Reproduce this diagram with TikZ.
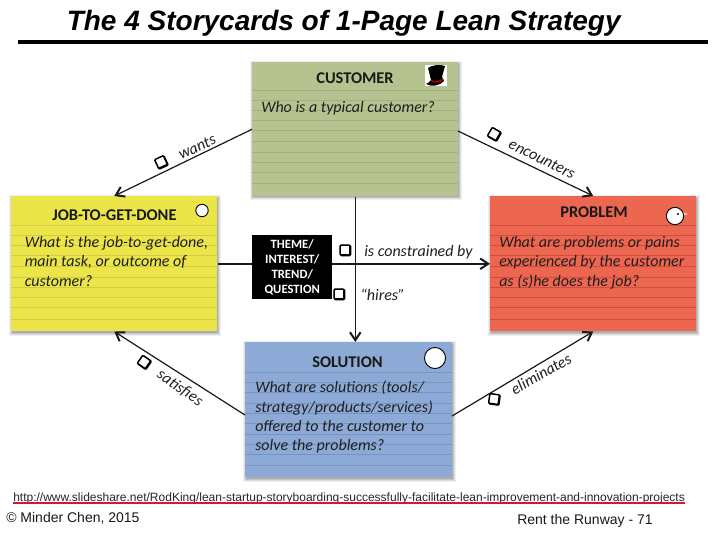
\documentclass[tikz,border=0pt]{standalone}
\usepackage{fontspec}
\setmainfont{Carlito}
\newfontfamily\arialfont{Liberation Sans}
\usetikzlibrary{calc,arrows.meta}
\definecolor{custfill}{HTML}{B6C28F}\definecolor{custline}{HTML}{A3B07E}
\definecolor{jobfill}{HTML}{EBE549}\definecolor{jobline}{HTML}{D2CC44}
\definecolor{probfill}{HTML}{EC6650}\definecolor{probline}{HTML}{D04E40}
\definecolor{solfill}{HTML}{8CAAD5}\definecolor{solline}{HTML}{7494C2}
\definecolor{linkred}{HTML}{D8123C}
\tikzset{
  x=0.75pt,y=-0.75pt,
  card/.style={inner sep=0pt,minimum width=154.5pt,minimum height=100.5pt,anchor=north west},
  cardtitle/.style={font=\bfseries\fontsize{12.3}{14}\selectfont,inner sep=0pt,text=black!90},
  cardtext/.style={font=\itshape\fontsize{12}{14.5}\selectfont,align=left,anchor=north west,inner sep=0pt,text=black!88},
  rule/.style={line width=0.5pt},
  link/.style={line width=0.9pt,black!90,-{Straight Barb[length=6pt,width=8pt,line width=1.5pt]}},
  heavylink/.style={link,line width=1.15pt},
  tick/.style={draw=black,line width=1.1pt,fill=white,inner sep=0pt,minimum size=7.2pt,rounded corners=0.6pt,
    preaction={draw=black,line width=1.3pt,transform canvas={shift={(0.45pt,-0.45pt)}}}},
  linklabel/.style={font=\itshape\fontsize{12}{14}\selectfont,inner sep=0pt,text=black!88},
  hole/.style={circle,draw=black,fill=white,line width=0.7pt,inner sep=0pt},
  foot/.style={font=\arialfont\fontsize{10.5}{12}\selectfont,inner sep=0pt,anchor=base west,text=black!90},
}
\newcommand{\cardshadow}[4]{%
  \foreach \d/\o in {4/0.06,3/0.08,2/0.1,1/0.12}{%
    \fill[black,opacity=\o] (#1-\d+2,#2+3-\d) rectangle (#3+\d,#4+\d+1);}}
\newcommand{\cardrules}[4]{%
  \foreach \yy in {#4}{\draw[rule,#3] (#1,\yy) -- (#2,\yy);}}
\begin{document}
\begin{tikzpicture}
\useasboundingbox (0,0) rectangle (720,540);
\fill[white] (0,0) rectangle (720,540);
% title
\node[font=\arialfont\bfseries\itshape\fontsize{21}{25}\selectfont,inner sep=0pt,anchor=base west] (title) at (66.5,30) {The 4 Storycards of 1-Page Lean Strategy};
\draw[line width=2.4pt] (18,42) -- (708,42);
% card shadows
\cardshadow{252}{62}{458}{195}
\cardshadow{11}{196}{217}{331}
\cardshadow{490}{196}{696}{331}
\cardshadow{245}{342}{452}{477}
% cards
\node[card,fill=custfill] (cust) at (252,62) {};
\node[card,fill=jobfill,minimum height=101.25pt] (job) at (11,196) {};
\node[card,fill=probfill,minimum height=101.25pt] (prob) at (490,196) {};
\node[card,fill=solfill,minimum width=155.25pt,minimum height=101.25pt] (sol) at (245,342) {};
\cardrules{252}{458}{custline}{90,100,110,120,130,141,152,162,172,183}
\cardrules{11}{217}{jobline}{225,235,245,255,266,277,287,297,307,319}
\cardrules{490}{696}{probline}{225,235,245,255,266,277,287,297,307,319}
\cardrules{245}{452}{solline}{372,382,392,403,413,423,434,444,454,465}
% titles
\node[cardtitle] (custt) at (355,78) {CUSTOMER};
\node[cardtitle] (jobt) at (114.5,215) {JOB-TO-GET-DONE};
\node[cardtitle] (probt) at (594,212) {PROBLEM};
\node[cardtitle] (solt) at (347.5,362) {SOLUTION};
% questions
\node[cardtext] (custq) at (261,101.5) {Who is a typical customer?};
\node[cardtext] (jobq) at (24.5,236) {What is the job-to-get-done,\\main task, or outcome of\\customer?};
\node[cardtext] (probq) at (499,236) {What are problems or pains\\experienced by the customer\\as (s)he does the job?};
\node[cardtext] (solq) at (255,381) {What are solutions (tools/\\strategy/products/services)\\offered to the customer to\\solve the problems?};
% icons
\fill[white] (425,65) rectangle (447,86);
\fill[black] (428,68) .. controls (432,65) and (440,64) .. (445,66) -- (442,77) -- (444,81) .. controls (440,86) and (431,87) .. (426,84) .. controls (428,83) and (430,82) .. (431,80) -- cycle;
\draw[red!65!black,line width=1.3pt] (431,80.5) .. controls (435,83) and (440,82) .. (443,79);
\node[hole,minimum size=9.3pt] (jobh) at (202,210.5) {};
\node[hole,minimum size=15.8pt] (solh) at (435,358) {};
\fill[orange!40] (683,212) -- (688,214) -- (683,216) -- cycle;
\node[hole,minimum size=13pt] (bird) at (675,216) {};
\fill[black] (678,214) circle (1.1);
% connectors
\coordinate (solwest) at (245,415);
\coordinate (soleast) at (452,416);
\coordinate (custeast) at (458,131);
\draw[link] (cust.west) -- (job.north);
\draw[link] (custeast) -- (prob.north);
\draw[link] (solwest) -- (job.south);
\draw[link] (soleast) -- (prob.south);
\draw[heavylink] (job.east) -- (prob.west);
\draw[heavylink] (cust.south) -- (cust.south |- sol.north);
% theme box
\node[fill=black,text=white,inner sep=0pt,minimum width=60pt,minimum height=48pt,anchor=north west,align=center,font=\bfseries\fontsize{9.5}{11.4}\selectfont] (theme) at (252,235) {THEME/\\INTEREST/\\TREND/\\QUESTION};
% link labels
\node[linklabel,rotate=25] (wants) at (197,147) {wants};
\node[tick,rotate=25] (t1) at (161,162) {};
\node[linklabel,rotate=-26] (enc) at (542,159) {encounters};
\node[tick,rotate=-30] (t2) at (494,134) {};
\node[linklabel,rotate=-35] (sat) at (180,388) {satisfies};
\node[tick,rotate=-35] (t3) at (144,362) {};
\node[linklabel,rotate=30] (eli) at (541,374) {eliminates};
\node[tick,rotate=-8] (t4) at (494,399) {};
\node[linklabel,anchor=base west] (con) at (364,256) {is constrained by};
\node[tick] (t5) at (345,250) {};
\node[linklabel,anchor=base west] (hir) at (360,300) {“hires”};
\node[tick] (t6) at (339,294) {};
% footer
\node[font=\arialfont\fontsize{9}{10.5}\selectfont,inner sep=0pt,anchor=base west,text=black!85] (url) at (13,501) {http://www.slideshare.net/RodKing/lean-startup-storyboarding-successfully-facilitate-lean-improvement-and-innovation-projects};
\draw[linkred,line width=0.9pt] ($(url.base west)+(0,2)$) -- ($(url.base east)+(0,2)$);
\node[foot] (copy) at (6,522) {© Minder Chen, 2015};
\node[foot] (rent) at (517,524) {Rent the Runway - 71};
\end{tikzpicture}
\end{document}
